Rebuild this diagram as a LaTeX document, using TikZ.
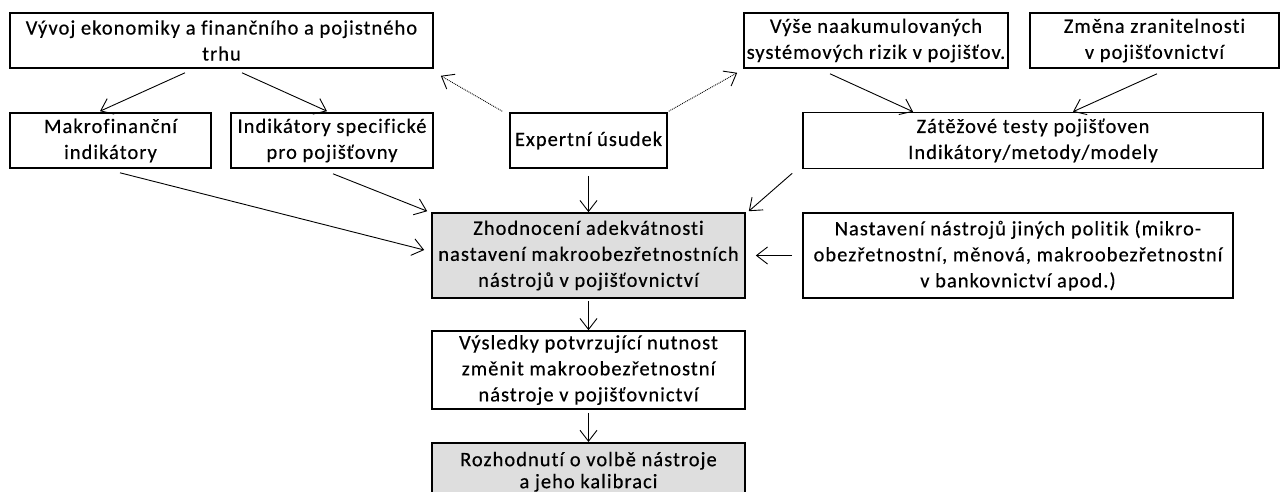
\documentclass[tikz,border=0pt]{standalone}
\usepackage{fontspec}
\setmainfont{Carlito}[LetterSpace=5,Ligatures=NoCommon,FakeBold=0.4]
\usetikzlibrary{arrows.meta}
\begin{document}
\begin{tikzpicture}[x=1pt,y=-1pt,
  box/.style={draw,line width=1.6pt,inner sep=0pt,align=center,
    font=\fontsize{20.5}{26}\selectfont},
  gbox/.style={box,fill=black!13},
  conn/.style={line width=0.9pt,-{Straight Barb[length=11pt,width=17pt,line width=0.9pt]}},
  dconn/.style={conn,densely dotted}]
\useasboundingbox (0,0) rectangle (1282,492);
\clip (0,0) rectangle (1282,492);
\node[box,minimum width=423,minimum height=55] (A) at (221.5,40.5) {Vývoj ekonomiky a finančního a pojistného\\trhu};
\node[box,minimum width=264,minimum height=55] (B) at (876,40.5) {Výše naakumulovaných\\systémových rizik v pojišťov.};
\node[box,minimum width=249,minimum height=55] (C) at (1154.5,40.5) {Změna zranitelnosti\\v pojišťovnictví};
\node[box,minimum width=201,minimum height=55] (D) at (110.5,140.5) {Makrofinanční\\indikátory};
\node[box,minimum width=202,minimum height=55] (E) at (332,140.5) {Indikátory specifické\\pro pojišťovny};
\node[box,minimum width=157,minimum height=55] (F) at (588.5,140.5) {Expertní úsudek};
\node[box,minimum width=460,minimum height=56] (G) at (1033,140.5) {Zátěžové testy pojišťoven\\Indikátory/metody/modely};
\node[gbox,minimum width=313,minimum height=85] (H) at (588.5,255.5) {Zhodnocení adekvátnosti\\nastavení makroobezřetnostních\\nástrojů v pojišťovnictví};
\node[box,minimum width=430,minimum height=85] (I) at (1018,255.5) {Nastavení nástrojů jiných politik (mikro-\\obezřetnostní, měnová, makroobezřetnostní\\v bankovnictví apod.)};
\node[box,minimum width=313,minimum height=78] (J) at (588.5,370) {Výsledky potvrzující nutnost\\změnit makroobezřetnostní\\nástroje v pojišťovnictví};
\node[gbox,minimum width=313,minimum height=58,anchor=north,font=\fontsize{20.5}{22}\selectfont] (K) at (588.5,442) {Rozhodnutí o volbě nástroje\\a jeho kalibraci};
\draw[conn] ([shift={(-36.5,4)}]A.south) -- ([shift={(-10.5,-1)}]D.north);
\draw[conn] ([shift={(20.5,4)}]A.south) -- ([shift={(-5,-1)}]E.north);
\draw[dconn] ([shift={(-7,-1)}]F.north west) -- ([shift={(7,7)}]A.south east);
\draw[dconn] ([shift={(1,-1)}]F.north east) -- ([shift={(-6,4)}]B.south west);
\draw[conn] ([shift={(-46,5)}]B.south) -- ([shift={(-120,0)}]G.north);
\draw[conn] ([shift={(2.5,5)}]C.south) -- ([shift={(40,0)}]G.north);
\draw[conn] ([shift={(9.5,4)}]D.south) -- ([shift={(-7,-5.5)}]H.west);
\draw[conn] ([shift={(1,5)}]E.south) -- ([shift={(-4,-1)}]H.north west);
\draw[conn,shorten <=7pt] (F.south) -- (H.north);
\draw[conn] ([shift={(-10,4)}]G.south west) -- ([shift={(3,-1)}]H.north east);
\draw[conn] ([shift={(-10,0)}]I.west) -- ([shift={(10,0)}]H.east);
\draw[conn,shorten <=2pt] (H.south) -- (J.north);
\draw[conn,shorten <=3pt] (J.south) -- (K.north);
\end{tikzpicture}
\end{document}
